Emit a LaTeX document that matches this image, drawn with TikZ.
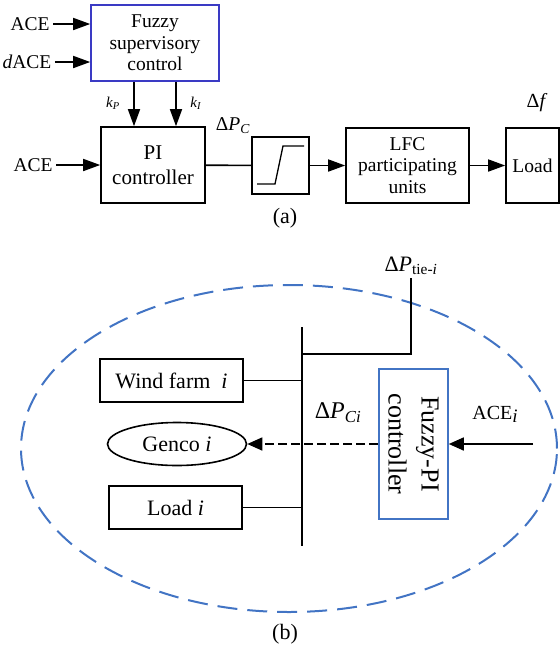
\documentclass[tikz,border=0pt]{standalone}
\usepackage{fontspec}
\setmainfont{Liberation Serif}
\usepackage{xcolor}
\usepackage{tikz}
\usetikzlibrary{arrows.meta,shapes.geometric}

\definecolor{supblue}{RGB}{58,58,196}
\definecolor{areablue}{RGB}{66,116,196}

\begin{document}
\begin{tikzpicture}[
  x=1pt, y=-1pt,
  >={Triangle[length=17pt,width=12pt]},
  box/.style={draw, line width=1.6pt, align=center, inner sep=0pt},
  arr/.style={->, line width=1.6pt},
  arrb/.style={-{Triangle[length=15pt,width=13pt]}, line width=1.6pt},
  wire/.style={line width=1.6pt},
  fa/.style={font=\fontsize{19.5}{21.7}\selectfont},
  fb/.style={font=\fontsize{22}{26}\selectfont}
]
\useasboundingbox (0,0) rectangle (560,649);

%--------------------------------------------------
% (a): supervisory loop
%--------------------------------------------------
\node[box, draw=supblue, fa, minimum width=128pt, minimum height=76pt] (fuzzy) at (155,43) {Fuzzy\\supervisory\\control};
\node[box, font=\fontsize{21}{25}\selectfont, minimum width=104pt, minimum height=76pt] (pi) at (153,165) {PI\\controller};
\node[box, minimum width=57pt, minimum height=57pt] (sat) at (280.5,165.5) {};
\node[box, fa, minimum width=123pt, minimum height=75pt] (lfc) at (407.5,165.5) {LFC\\participating\\units};
\node[box, fa, minimum width=53pt, minimum height=75pt] (load) at (532.5,165.5) {Load};

% saturation curve
\draw[line width=1.3pt] ([shift={(-23.5,18.5)}]sat.center) -- ++(18,0) -- ++(8,-38) -- ++(21,0);

% inputs and labels
\node[fa] (ace1) at (30,24) {ACE};
\node[fa] (dace) at (27,62) {\textit{d}ACE};
\node[fa] (ace2) at (33,165) {ACE};
\node[font=\fontsize{15}{17}\selectfont] (kp) at (113,103) {\textit{k}\textsubscript{\textit{P}}};
\node[font=\fontsize{15}{17}\selectfont] (ki) at (196,103) {\textit{k}\textsubscript{\textit{I}}};
\node[font=\fontsize{19.5}{22}\selectfont] (dpc) at (233,126) {Δ\textit{P}\textsubscript{\textit{C}}};
\node[font=\fontsize{20}{22}\selectfont] (df) at (537,103) {Δ\textit{f}};
\node[fb] (capa) at (285,218) {(a)};

\draw[arr] (ace1) -- (ace1 -| fuzzy.west);
\draw[arr] (dace) -- (dace -| fuzzy.west);
\draw[arr] (ace2) -- (ace2 -| pi.west);
\draw[arr] ([xshift=-21pt]fuzzy.south) -- ([xshift=-21pt]fuzzy.south |- pi.north);
\draw[arr] ([xshift=21pt]fuzzy.south) -- ([xshift=21pt]fuzzy.south |- pi.north);
\draw[wire] (pi) -- (sat);
\draw[arr] (sat) -- (lfc);
\draw[arr] (lfc) -- (load);

%--------------------------------------------------
% (b): control area i
%--------------------------------------------------
\draw[areablue, line width=2pt, dash pattern=on 20pt off 10pt] (289,448.5) ellipse [x radius=268pt, y radius=163.5pt];

\coordinate (bustop) at (302,327);
\coordinate (busbot) at (302,546);
\coordinate (tiejoin) at (302,354);
\coordinate (acein) at (533,444);
\draw[wire] (bustop) -- (busbot);

\node[box, fb, minimum width=143pt, minimum height=43pt] (wind) at (171.5,380.5) {Wind farm\ \ \textit{i}};
\node[draw, ellipse, line width=1.6pt, fb, minimum width=139pt, minimum height=43pt, inner sep=0pt] (genco) at (177,444) {Genco \textit{i}};
\node[box, fb, minimum width=133pt, minimum height=43pt] (loadi) at (175.5,507.5) {Load \textit{i}};
\node[box, draw=areablue, font=\fontsize{26}{33}\selectfont, rotate=-90, minimum width=150pt, minimum height=69pt] (fpi) at (413.5,444) {Fuzzy-PI\\controller};

\node[fb] (tie) at (411,266) {Δ\textit{P}\textsubscript{tie-\textit{i}}};
\node[font=\fontsize{24}{28}\selectfont] (dpci) at (338,413) {Δ\textit{P}\textsubscript{\textit{Ci}}};
\node[font=\fontsize{20}{24}\selectfont] (acei) at (495,414) {ACE\raisebox{-0.35ex}{\fontsize{19}{22}\selectfont\textit{i}}};
\node[fb] (capb) at (285,634) {(b)};

\draw[wire] (tiejoin) -| (tie.south);
\draw[wire] (wind) -- (wind -| bustop);
\draw[wire] (loadi) -- (loadi -| bustop);
\draw[arrb, dash pattern=on 9pt off 4pt] (fpi) -- (genco);
\draw[arrb] (acein) -- (fpi);

\end{tikzpicture}
\end{document}
